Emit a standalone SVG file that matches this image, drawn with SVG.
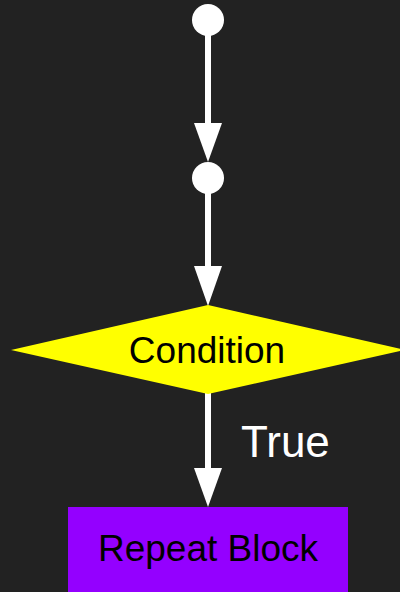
<svg xmlns="http://www.w3.org/2000/svg" width="400" height="592" viewBox="0 0 400 592">
<style>
.edge{stroke:#ffffff;stroke-width:6;fill:none}
.head{fill:#ffffff}
.lbl{font-family:"Liberation Sans",Arial,sans-serif;font-size:37px;text-anchor:middle;fill:#000000}
.elbl{font-family:"Liberation Sans",Arial,sans-serif;font-size:44px;fill:#ffffff}
</style>
<rect x="0" y="0" width="400" height="592" fill="#222222"/>
<g id="connectors">
<line class="edge" x1="208" y1="30" x2="208" y2="130"/>
<polygon class="head" points="194,123 222,123 208,162"/>
<line class="edge" x1="208" y1="190" x2="208" y2="272"/>
<polygon class="head" points="194,266 222,266 208,306"/>
<line class="edge" x1="208" y1="392" x2="208" y2="474"/>
<polygon class="head" points="194,468 222,468 208,507"/>
<text class="elbl" x="241" y="457">True</text>
</g>
<g id="start1">
<circle cx="208" cy="20" r="16" fill="#ffffff"/>
</g>
<g id="start2">
<circle cx="208" cy="178" r="16" fill="#ffffff"/>
</g>
<g id="condition">
<polygon points="208,305 405,350 208,394 11,350" fill="#ffff00"/>
<text class="lbl" x="207" y="363">Condition</text>
</g>
<g id="repeat">
<rect x="68" y="507" width="280" height="90" fill="#9400ff"/>
<text class="lbl" x="208" y="561">Repeat Block</text>
</g>
</svg>
